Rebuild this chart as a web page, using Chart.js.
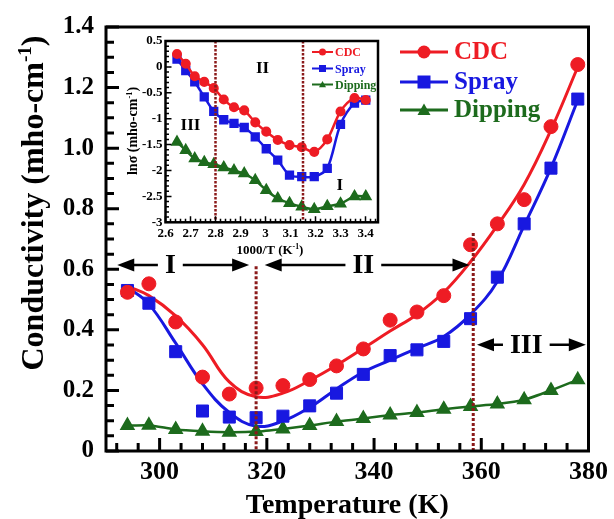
<!DOCTYPE html>
<html>
<head>
<meta charset="utf-8">
<script src="https://cdn.jsdelivr.net/npm/chart.js@4.4.0/dist/chart.umd.min.js"></script>
<style>
  body { margin: 0; background: #fff; }
  #wrap { position: relative; width: 614px; height: 519px; }
  #main { position: absolute; left: 0; top: 0; }
  #inset { position: absolute; left: 120px; top: 30px; }
</style>
</head>
<body>
<div id="wrap">
  <canvas id="main" width="614" height="519"></canvas>
  <canvas id="inset" width="266" height="228"></canvas>
</div>
<script>
// main panel: conductivity vs temperature
const temps    = [294, 298, 303, 308, 313, 318, 323, 328, 333, 338, 343, 348, 353, 358, 363, 368, 373, 378];
const cdc      = [0.524, 0.552, 0.426, 0.244, 0.188, 0.208, 0.216, 0.236, 0.281, 0.337, 0.432, 0.459, 0.513, 0.681, 0.750, 0.830, 1.071, 1.276];
const spray    = [0.530, 0.488, 0.328, 0.132, 0.112, 0.110, 0.115, 0.149, 0.191, 0.253, 0.315, 0.334, 0.362, 0.437, 0.574, 0.750, 0.934, 1.162];
const dipping  = [0.084, 0.085, 0.071, 0.065, 0.062, 0.064, 0.073, 0.084, 0.097, 0.107, 0.119, 0.127, 0.138, 0.147, 0.155, 0.169, 0.200, 0.235];
// fitted curves drawn through the CDC and spray points
const cdcFit   = [0.544, 0.513, 0.446, 0.351, 0.228, 0.179, 0.191, 0.233, 0.283, 0.339, 0.396, 0.451, 0.524, 0.625, 0.745, 0.880, 1.060, 1.268];
const sprayFit = [0.541, 0.485, 0.356, 0.222, 0.127, 0.082, 0.099, 0.144, 0.205, 0.261, 0.300, 0.339, 0.378, 0.451, 0.560, 0.745, 0.935, 1.159];
const mainXTicks  = [300, 320, 340, 360, 380];
const mainXLabels = ['300', '320', '340', '360', '380'];
const mainYTicks  = [0, 0.2, 0.4, 0.6, 0.8, 1.0, 1.2, 1.4];
const mainYLabels = ['0', '0.2', '0.4', '0.6', '0.8', '1.0', '1.2', '1.4'];

// inset: ln(sigma) vs 1000/T
const invT    = [2.646, 2.681, 2.717, 2.755, 2.793, 2.833, 2.874, 2.915, 2.959, 3.003, 3.049, 3.096, 3.145, 3.195, 3.247, 3.300, 3.356, 3.401];
const lnCdc   = [0.25, 0.06, -0.18, -0.29, -0.41, -0.63, -0.78, -0.84, -1.07, -1.25, -1.41, -1.51, -1.55, -1.64, -1.40, -0.86, -0.60, -0.64];
const lnSpray = [0.15, -0.07, -0.29, -0.58, -0.86, -1.02, -1.09, -1.17, -1.35, -1.58, -1.80, -2.09, -2.12, -2.12, -1.96, -1.11, -0.70, -0.64];
const lnDip   = [-1.45, -1.61, -1.77, -1.84, -1.88, -1.94, -2.00, -2.06, -2.19, -2.38, -2.54, -2.63, -2.70, -2.75, -2.69, -2.64, -2.50, -2.50];
const insetXTicks  = [2.6, 2.7, 2.8, 2.9, 3.0, 3.1, 3.2, 3.3, 3.4];
const insetXLabels = ['2.6', '2.7', '2.8', '2.9', '3', '3.1', '3.2', '3.3', '3.4'];
const insetYTicks  = [0.5, 0, -0.5, -1, -1.5, -2, -2.5, -3];
const insetYLabels = ['0.5', '0', '-0.5', '-1', '-1.5', '-2', '-2.5', '-3'];

// region markers
const mainRegionLines  = [{x: 318, from: 0.61}, {x: 358.5, from: 0.72}];
const mainArrows = [
  {from: 292.1, to: 316.7, y: 0.614, label: 'I', at: 302},
  {from: 319.6, to: 357.8, y: 0.614, label: 'II', at: 338},
  {from: 359.2, to: 379.5, y: 0.351, label: 'III', at: 368.4}
];
const insetRegionLines = [2.8, 3.15];
const insetRegionText  = [{x: 2.988, y: -0.04, t: 'II'}, {x: 2.70, y: -1.13, t: 'III'}, {x: 3.297, y: -2.30, t: 'I'}];

const red = '#ee1c24', blue = '#1818e0', green = '#1d6b1d', maroon = '#8b1a1a';
const serif = '"Liberation Serif", "Times New Roman", serif';

function pts(xs, ys) {
  return xs.map((x, i) => ({x: x, y: ys[i]}));
}

function supText(ctx, parts, x, y, size) {
  // parts: [text, isSuperscript], drawn centred on x
  let w = 0;
  parts.forEach(p => {
    ctx.font = 'bold ' + (p[1] ? size * 0.6 : size) + 'px ' + serif;
    w += ctx.measureText(p[0]).width;
  });
  let cx = x - w / 2;
  ctx.textAlign = 'left';
  parts.forEach(p => {
    ctx.font = 'bold ' + (p[1] ? size * 0.6 : size) + 'px ' + serif;
    ctx.fillText(p[0], cx, p[1] ? y - size * 0.38 : y);
    cx += ctx.measureText(p[0]).width;
  });
}

function frameTicks(chart, o) {
  const {ctx, chartArea: a, scales: {x, y}} = chart;
  ctx.save();
  ctx.strokeStyle = '#000';
  ctx.lineWidth = o.tw;
  ctx.beginPath();
  for (let i = 0; ; i++) {
    const v = o.xStart + i * o.xStep;
    if (v > x.max + 1e-9) break;
    const px = x.getPixelForValue(v);
    const major = o.xMajor.some(m => Math.abs(m - v) < 1e-6);
    ctx.moveTo(px, a.bottom);
    ctx.lineTo(px, a.bottom - (major ? o.majLen : o.minLen));
  }
  for (let i = 0; ; i++) {
    const v = y.min + i * o.yStep;
    if (v > y.max + 1e-9) break;
    const py = y.getPixelForValue(v);
    const major = o.yMajor.some(m => Math.abs(m - v) < 1e-6);
    ctx.moveTo(a.left, py);
    ctx.lineTo(a.left + (major ? o.majLen : o.minLen), py);
  }
  ctx.stroke();
  ctx.lineWidth = o.fw;
  ctx.strokeRect(a.left, a.top, a.right - a.left, a.bottom - a.top);
  ctx.restore();
}

function marker(ctx, style, x, y, r, color) {
  ctx.fillStyle = color;
  ctx.beginPath();
  if (style === 'circle') {
    ctx.arc(x, y, r, 0, Math.PI * 2);
  } else if (style === 'rect') {
    ctx.rect(x - r, y - r, 2 * r, 2 * r);
  } else {
    ctx.moveTo(x, y - r);
    ctx.lineTo(x + r, y + r * 0.75);
    ctx.lineTo(x - r, y + r * 0.75);
    ctx.closePath();
  }
  ctx.fill();
}

function legend(ctx, items, x1, x2, tx, ys, r, size, lw) {
  items.forEach((it, i) => {
    ctx.strokeStyle = it.c;
    ctx.lineWidth = lw;
    ctx.beginPath();
    ctx.moveTo(x1, ys[i]);
    ctx.lineTo(x2, ys[i]);
    ctx.stroke();
    marker(ctx, it.s, (x1 + x2) / 2, ys[i], r, it.c);
    ctx.fillStyle = it.c;
    ctx.font = 'bold ' + size + 'px ' + serif;
    ctx.textAlign = 'left';
    ctx.textBaseline = 'middle';
    ctx.fillText(it.t, tx, ys[i] + 1);
  });
}

function arrowHead(ctx, x, y, dir) {
  ctx.beginPath();
  ctx.moveTo(x, y);
  ctx.lineTo(x - dir * 17, y - 6.5);
  ctx.lineTo(x - dir * 17, y + 6.5);
  ctx.closePath();
  ctx.fill();
}

const legendItems = [
  {t: 'CDC', c: red, s: 'circle'},
  {t: 'Spray', c: blue, s: 'rect'},
  {t: 'Dipping', c: green, s: 'tri'}
];

const mainDecor = {
  id: 'mainDecor',
  afterDatasetsDraw(chart) {
    const {ctx, chartArea: a, scales: {x, y}} = chart;
    ctx.save();
    ctx.strokeStyle = maroon;
    ctx.lineWidth = 3;
    ctx.setLineDash([3, 2]);
    mainRegionLines.forEach(r => {
      const px = x.getPixelForValue(r.x);
      ctx.beginPath();
      ctx.moveTo(px, y.getPixelForValue(r.from));
      ctx.lineTo(px, a.bottom);
      ctx.stroke();
    });
    ctx.setLineDash([]);

    ctx.fillStyle = '#000';
    ctx.strokeStyle = '#000';
    ctx.lineWidth = 2.5;
    ctx.font = 'bold 28px ' + serif;
    mainArrows.forEach(ar => {
      const x1 = x.getPixelForValue(ar.from), x2 = x.getPixelForValue(ar.to);
      const cx = x.getPixelForValue(ar.at), py = y.getPixelForValue(ar.y);
      const half = ctx.measureText(ar.label).width / 2 + 7;
      ctx.beginPath();
      ctx.moveTo(x1 + 10, py); ctx.lineTo(cx - half, py);
      ctx.moveTo(cx + half, py); ctx.lineTo(x2 - 10, py);
      ctx.stroke();
      arrowHead(ctx, x1, py, -1);
      arrowHead(ctx, x2, py, 1);
      ctx.textAlign = 'center';
      ctx.textBaseline = 'middle';
      ctx.fillText(ar.label, cx, py + 1);
    });
    ctx.restore();

    frameTicks(chart, {xStart: 292, xStep: 4, xMajor: mainXTicks, yStep: 0.05, yMajor: mainYTicks,
      majLen: 13, minLen: 8, tw: 3, fw: 3});

    ctx.save();
    legend(ctx, legendItems, 400, 448, 454, [52, 82, 110], 6.5, 25, 3);
    ctx.fillStyle = '#000';
    ctx.textBaseline = 'alphabetic';
    supText(ctx, [['Temperature (K)', false]], (a.left + a.right) / 2, 513, 28);
    ctx.translate(43, 203);
    ctx.rotate(-Math.PI / 2);
    supText(ctx, [['Conductivity (mho-cm', false], ['-1', true], [')', false]], 0, 0, 32);
    ctx.restore();
  }
};

const insetDecor = {
  id: 'insetDecor',
  afterDatasetsDraw(chart) {
    const {ctx, chartArea: a, scales: {x, y}} = chart;
    ctx.save();
    ctx.strokeStyle = maroon;
    ctx.lineWidth = 2.5;
    ctx.setLineDash([2.5, 1.5]);
    insetRegionLines.forEach(v => {
      const px = x.getPixelForValue(v);
      ctx.beginPath();
      ctx.moveTo(px, a.top);
      ctx.lineTo(px, a.bottom);
      ctx.stroke();
    });
    ctx.setLineDash([]);
    ctx.fillStyle = '#000';
    ctx.font = 'bold 17px ' + serif;
    ctx.textAlign = 'center';
    ctx.textBaseline = 'middle';
    insetRegionText.forEach(t => ctx.fillText(t.t, x.getPixelForValue(t.x), y.getPixelForValue(t.y)));
    ctx.restore();

    frameTicks(chart, {xStart: 2.6, xStep: 0.02, xMajor: insetXTicks, yStep: 0.1, yMajor: insetYTicks,
      majLen: 6, minLen: 3.5, tw: 1.5, fw: 2.5});

    ctx.save();
    legend(ctx, legendItems, 192, 213, 215, [22, 38.5, 54.5], 3.5, 12, 2);
    ctx.fillStyle = '#000';
    ctx.textBaseline = 'alphabetic';
    supText(ctx, [['1000/T (K', false], ['-1', true], [')', false]], 150, 224, 13);
    ctx.translate(17, 101);
    ctx.rotate(-Math.PI / 2);
    supText(ctx, [['ln\u03c3 (mho-cm', false], ['-1', true], [')', false]], 0, 0, 14);
    ctx.restore();
  }
};

const tickFont = size => ({family: serif, size: size, weight: 'bold'});

new Chart(document.getElementById('main'), {
  type: 'scatter',
  data: {
    datasets: [
      {label: 'CDC', data: pts(temps, cdc), pointStyle: 'circle', pointRadius: 7,
        backgroundColor: red, borderColor: red, showLine: false},
      {label: 'Spray', data: pts(temps, spray), pointStyle: 'rect', pointRadius: 8.5,
        backgroundColor: blue, borderColor: blue, showLine: false},
      {label: 'Dipping', data: pts(temps, dipping), pointStyle: 'triangle', pointRadius: 6.5,
        backgroundColor: green, borderColor: green, showLine: true, borderWidth: 2.5, tension: 0.2},
      {label: 'CDC fit', data: pts(temps, cdcFit), showLine: true, pointRadius: 0,
        borderColor: red, borderWidth: 3, tension: 0.4},
      {label: 'Spray fit', data: pts(temps, sprayFit), showLine: true, pointRadius: 0,
        borderColor: blue, borderWidth: 3, tension: 0.4}
    ]
  },
  options: {
    responsive: false,
    animation: false,
    layout: {padding: {top: 25, right: 23, left: 0, bottom: 0}},
    plugins: {legend: {display: false}, tooltip: {enabled: false}},
    scales: {
      x: {
        type: 'linear', min: 290, max: 380,
        afterFit: s => { s.height = 68; },
        afterBuildTicks: s => { s.ticks = mainXTicks.map(v => ({value: v})); },
        ticks: {font: tickFont(26), color: '#000', padding: 6, callback: (v, i) => mainXLabels[i]},
        grid: {display: false, drawTicks: false},
        border: {display: false}
      },
      y: {
        type: 'linear', min: 0, max: 1.4,
        afterFit: s => { s.width = 106; },
        afterBuildTicks: s => { s.ticks = mainYTicks.map(v => ({value: v})); },
        ticks: {font: tickFont(25), color: '#000', padding: 12, callback: (v, i) => mainYLabels[i]},
        grid: {display: false, drawTicks: false},
        border: {display: false}
      }
    }
  },
  plugins: [mainDecor]
});

new Chart(document.getElementById('inset'), {
  type: 'scatter',
  data: {
    datasets: [
      {label: 'CDC', data: pts(invT, lnCdc), showLine: true, pointStyle: 'circle', pointRadius: 3.8,
        backgroundColor: red, borderColor: red, borderWidth: 2.5, tension: 0.3},
      {label: 'Spray', data: pts(invT, lnSpray), showLine: true, pointStyle: 'rect', pointRadius: 4.8,
        backgroundColor: blue, borderColor: blue, borderWidth: 2.5, tension: 0.3},
      {label: 'Dipping', data: pts(invT, lnDip), showLine: true, pointStyle: 'triangle', pointRadius: 5,
        backgroundColor: green, borderColor: green, borderWidth: 2.5, tension: 0.3}
    ]
  },
  options: {
    responsive: false,
    animation: false,
    layout: {padding: {top: 11, right: 8, left: 0, bottom: 0}},
    plugins: {legend: {display: false}, tooltip: {enabled: false}},
    scales: {
      x: {
        type: 'linear', min: 2.6, max: 3.45,
        afterFit: s => { s.height = 35.7; },
        afterBuildTicks: s => { s.ticks = insetXTicks.map(v => ({value: v})); },
        ticks: {font: tickFont(13), color: '#000', padding: 4, callback: (v, i) => insetXLabels[i]},
        grid: {display: false, drawTicks: false},
        border: {display: false}
      },
      y: {
        type: 'linear', min: -3, max: 0.5,
        afterFit: s => { s.width = 45.5; },
        afterBuildTicks: s => { s.ticks = insetYTicks.map(v => ({value: v})); },
        ticks: {font: tickFont(13), color: '#000', padding: 3, callback: (v, i) => insetYLabels[i]},
        grid: {display: false, drawTicks: false},
        border: {display: false}
      }
    }
  },
  plugins: [insetDecor]
});
</script>
</body>
</html>
